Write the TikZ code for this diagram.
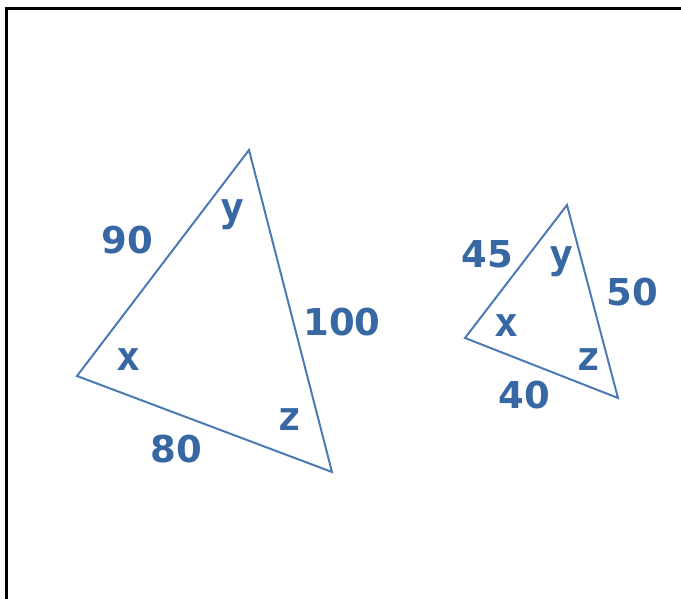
\documentclass[tikz,border=0pt]{standalone}
\usepackage{fontspec}
\setmainfont{DejaVu Sans}
\newfontfamily\anglefont{DejaVu Sans Mono}
\definecolor{triblue}{HTML}{3768A3}
\definecolor{lineblue}{HTML}{4C7AB3}
\begin{document}
\begin{tikzpicture}[x=1pt, y=-1pt,
    lbl/.style={text=triblue, font=\fontsize{37}{37}\selectfont\bfseries, inner sep=0pt},
    ang/.style={text=triblue, font=\anglefont\fontsize{40}{40}\selectfont\bfseries, inner sep=0pt},
    side/.style={draw=lineblue, line width=2pt, line join=miter}]
  \useasboundingbox (0,0) rectangle (681,599);
  \draw[line width=3pt] (681,9) -- (6.5,9) -- (6.5,599);
  % large triangle
  \coordinate (bx) at (77,376);
  \coordinate (by) at (249,150);
  \coordinate (bz) at (332,472);
  \draw[side] (bx) -- (by) -- (bz) -- cycle;
  \draw (127,240) node[lbl] (bxy) {90}
        (342,322) node[lbl] (byz) {100}
        (176,449) node[lbl] (bxz) {80}
        (129,360) node[ang] (bangx) {x}
        (233,215) node[ang] (bangy) {y}
        (290,420) node[ang] (bangz) {z};
  % small triangle
  \coordinate (sx) at (465,338);
  \coordinate (sy) at (567,205);
  \coordinate (sz) at (618,398);
  \draw[side] (sx) -- (sy) -- (sz) -- cycle;
  \draw (487,254) node[lbl] (sxy) {45}
        (632,292) node[lbl] (syz) {50}
        (524,395) node[lbl] (sxz) {40}
        (507,326) node[ang] (sangx) {x}
        (562,262) node[ang] (sangy) {y}
        (589,360) node[ang] (sangz) {z};
\end{tikzpicture}
\end{document}
